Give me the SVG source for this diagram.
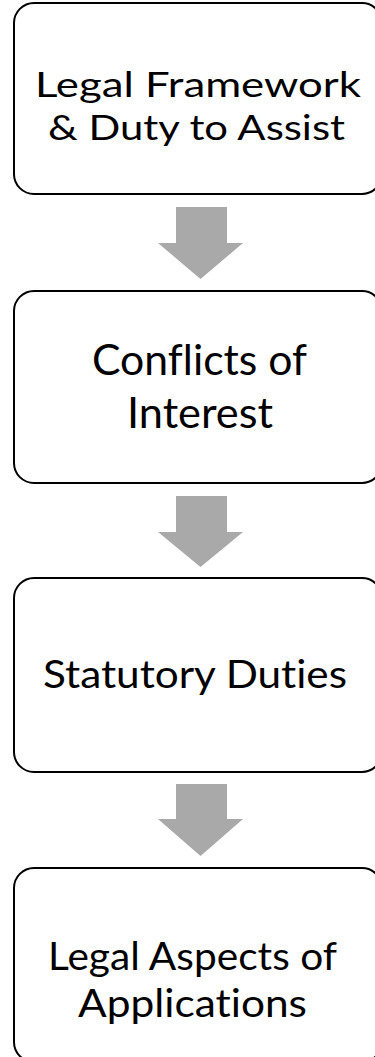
<svg xmlns="http://www.w3.org/2000/svg" width="375" height="1057" viewBox="0 0 375 1057">
<style>
.box{fill:#fff;stroke:#000;stroke-width:2}
.arr{fill:#A9A9A9}
text{font-family:"Lato","Open Sans","Liberation Sans",sans-serif;fill:#000;font-variant-ligatures:none;font-feature-settings:"liga" 0,"clig" 0,"dlig" 0}
</style>
<rect width="375" height="1057" fill="#fff"/>
<g id="connectors">
<polygon class="arr" points="176,207 227,207 227,243 243,243 200.5,279 158,243 176,243"/>
<polygon class="arr" points="176,496 227,496 227,532 243,532 200.5,567 158,532 176,532"/>
<polygon class="arr" points="176,784 227,784 227,819 243,819 200.5,856 158,819 176,819"/>
</g>
<g id="node1">
<rect class="box" x="14" y="3" width="368" height="191" rx="20"/>
<text x="35" y="97" font-size="35" textLength="326" lengthAdjust="spacingAndGlyphs">Legal Framework</text>
<text x="48" y="140" font-size="35" textLength="297" lengthAdjust="spacingAndGlyphs">&amp; Duty to Assist</text>
</g>
<g id="node2">
<rect class="box" x="14" y="291" width="368" height="192" rx="20"/>
<text x="92" y="375" font-size="42" textLength="215" lengthAdjust="spacingAndGlyphs">Conflicts of</text>
<text x="127" y="428" font-size="42" textLength="146" lengthAdjust="spacingAndGlyphs">Interest</text>
</g>
<g id="node3">
<rect class="box" x="14" y="578" width="368" height="194" rx="20"/>
<text x="43" y="688" font-size="38" textLength="304" lengthAdjust="spacingAndGlyphs">Statutory Duties</text>
</g>
<g id="node4">
<rect class="box" x="14" y="868" width="368" height="194" rx="20"/>
<text x="48" y="970" font-size="38" textLength="289" lengthAdjust="spacingAndGlyphs">Legal Aspects of</text>
<text x="78" y="1017" font-size="38" textLength="229" lengthAdjust="spacingAndGlyphs">Applications</text>
</g>
</svg>
